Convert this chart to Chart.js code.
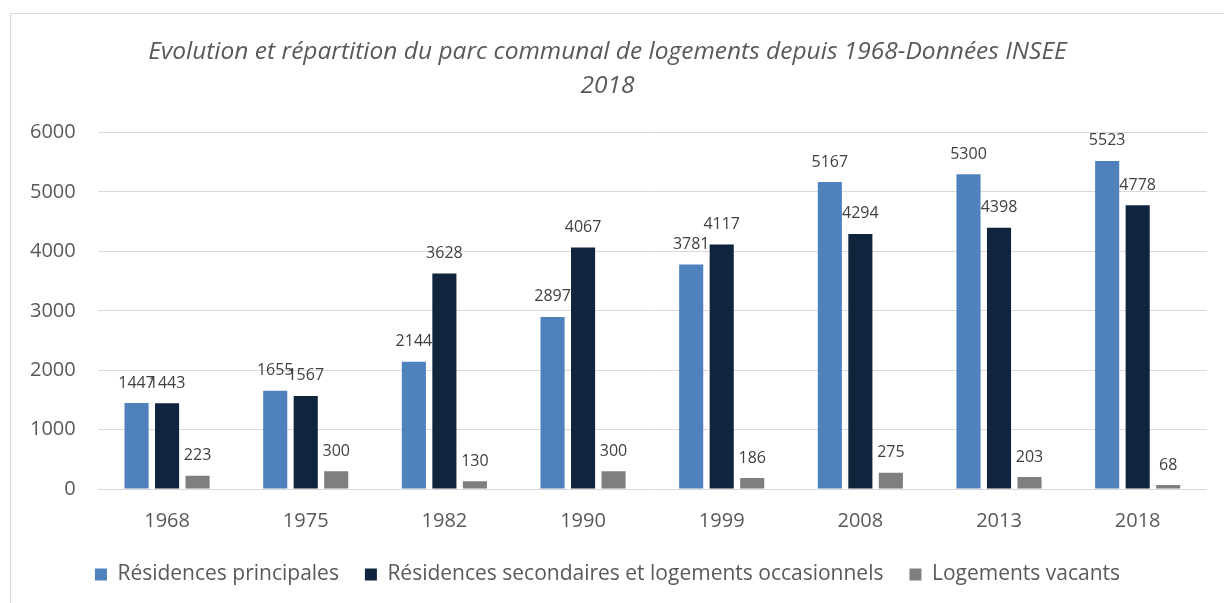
<!DOCTYPE html>
<html>
<head>
<meta charset="utf-8">
<script src="https://cdn.jsdelivr.net/npm/chart.js@4"></script>
<style>
  html, body { margin: 0; padding: 0; background: #fff; }
  #wrap { position: relative; width: 1224px; height: 603px; overflow: hidden; }
  #frame { position: absolute; left: 10px; top: 13px; width: 1300px; height: 700px; border: 1px solid #d9d9d9; box-sizing: border-box; }
  canvas { position: absolute; left: 0; top: 0; }
</style>
</head>
<body>
<div id="wrap">
  <div id="frame"></div>
  <canvas id="parcChart" width="1224" height="603"></canvas>
</div>
<script>
const years = ['1968', '1975', '1982', '1990', '1999', '2008', '2013', '2018'];
const principales = [1447, 1655, 2144, 2897, 3781, 5167, 5300, 5523];
const secondaires = [1443, 1567, 3628, 4067, 4117, 4294, 4398, 4778];
const vacants = [223, 300, 130, 300, 186, 275, 203, 68];
const yTicks = [0, 1000, 2000, 3000, 4000, 5000, 6000];

const FONT = "'Open Sans', 'Noto Sans', sans-serif";

// simple value labels above each bar
const valueLabels = {
    id: 'valueLabels',
    afterDatasetsDraw(chart) {
        const ctx = chart.ctx;
        ctx.save();
        ctx.font = '16px ' + FONT;
        ctx.fillStyle = '#404040';
        ctx.textAlign = 'center';
        ctx.textBaseline = 'bottom';
        chart.data.datasets.forEach((ds, i) => {
            chart.getDatasetMeta(i).data.forEach((bar, j) => {
                ctx.fillText(ds.data[j], bar.x, bar.y - 12);
            });
        });
        ctx.restore();
    }
};

const ctx = document.getElementById('parcChart').getContext('2d');
const parcChart = new Chart(ctx, {
    type: 'bar',
    data: {
        labels: years,
        datasets: [
            {
                label: 'Résidences principales',
                data: principales,
                backgroundColor: '#4f81bd'
            },
            {
                label: 'Résidences secondaires et logements occasionnels',
                data: secondaires,
                backgroundColor: '#10243e'
            },
            {
                label: 'Logements vacants',
                data: vacants,
                backgroundColor: '#7f7f7f'
            }
        ]
    },
    options: {
        responsive: false,
        animation: false,
        categoryPercentage: 0.66,
        barPercentage: 0.79,
        layout: {
            padding: { left: 8, right: 17, top: 20, bottom: 8 }
        },
        scales: {
            x: {
                grid: { display: false },
                border: { display: false },
                afterFit: axis => { axis.height -= 7; },
                ticks: {
                    color: '#595959',
                    font: { family: FONT, size: 20 },
                    padding: 12
                }
            },
            y: {
                min: 0,
                max: 6000,
                afterBuildTicks: axis => {
                    axis.ticks = yTicks.map(v => ({ value: v }));
                },
                grid: { color: '#d9d9d9', lineWidth: 1, drawTicks: false },
                border: { display: false },
                ticks: {
                    color: '#595959',
                    font: { family: FONT, size: 20 },
                    padding: 22,
                    callback: v => String(v)
                }
            }
        },
        plugins: {
            title: {
                display: true,
                text: ['Evolution et répartition du parc communal de logements depuis 1968-Données INSEE', '2018'],
                color: '#595959',
                font: { family: FONT, size: 24.5, style: 'italic', weight: 'normal', lineHeight: 1.4 },
                padding: { top: 15, bottom: 29 }
            },
            legend: {
                position: 'bottom',
                labels: {
                    color: '#595959',
                    font: { family: FONT, size: 21 },
                    boxWidth: 12,
                    boxHeight: 12,
                    padding: 26
                }
            },
            tooltip: { enabled: false }
        }
    },
    plugins: [valueLabels]
});
</script>
</body>
</html>
